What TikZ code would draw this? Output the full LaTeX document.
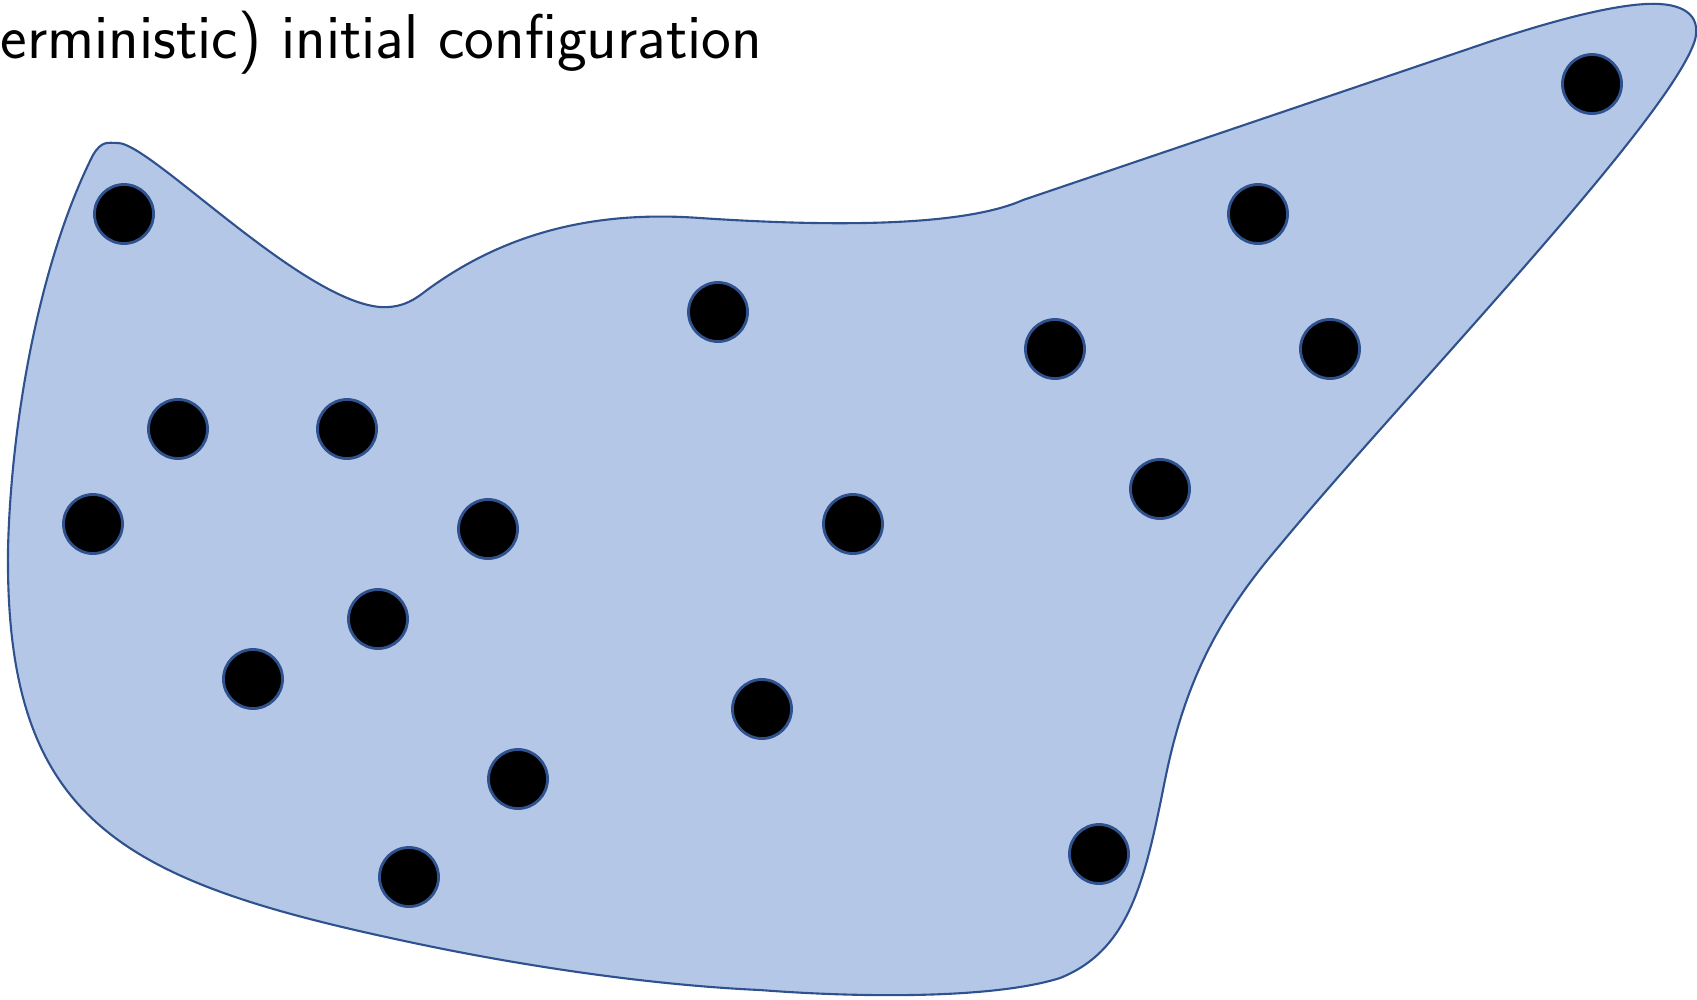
\documentclass[tikz,border=0pt]{standalone}
\usetikzlibrary{positioning}
\definecolor{blobfill}{HTML}{B4C7E7}
\definecolor{blobline}{HTML}{2F528F}

\begin{document}
\begin{tikzpicture}[
    x=0.01cm, y=-0.01cm,
    region/.style={draw=blobline, fill=blobfill, line width=0.6pt},
    dot/.style={circle, draw=blobline, fill=black, line width=0.8pt, minimum size=5.9mm, inner sep=0pt},
    caption/.style={font=\sffamily\fontsize{18}{21}\selectfont, inner sep=0pt}
]

\useasboundingbox (0,0) rectangle (1697,999);

% Caption (cut at the left border)
\node[caption, anchor=base east] (title) at (763,58) {erministic) initial configuration};

% Region outline
\path[region] (118,143)
    .. controls (150,143) and (300,300) .. (380,307)
    .. controls (398,308) and (410,303) .. (423,293)
    .. controls (500,235) and (590,210) .. (700,218)
    .. controls (820,226) and (960,228) .. (1023,200)
    -- (1474,47)
    .. controls (1570,14) and (1630,2) .. (1660,4)
    .. controls (1690,6) and (1700,20) .. (1695,40)
    .. controls (1670,120) and (1400,400) .. (1280,545)
    .. controls (1220,615) and (1185,680) .. (1165,780)
    .. controls (1145,880) and (1130,950) .. (1060,978)
    .. controls (990,1000) and (850,997) .. (760,990)
    .. controls (650,985) and (520,966) .. (400,940)
    .. controls (120,880) and (5,820) .. (8,550)
    .. controls (11,420) and (40,260) .. (93,155)
    .. controls (102,140) and (108,143) .. (118,143) -- cycle;

% Left part
\node[dot] (p1)  at (124,214) {};
\node[dot] (p2)  at (178,429) {};
\node[dot] (p3)  at (347,429) {};
\node[dot] (p4)  at (93,524) {};
\node[dot] (p5)  at (488,529) {};
\node[dot] (p6)  at (378,619) {};
\node[dot] (p7)  at (253,679) {};
\node[dot] (p8)  at (518,779) {};
\node[dot] (p9)  at (409,877) {};

% Middle part
\node[dot] (p10) at (718,312) {};
\node[dot] (p11) at (853,524) {};
\node[dot] (p12) at (762,709) {};

% Right part
\node[dot] (p13) at (1055,349) {};
\node[dot] (p14) at (1330,349) {};
\node[dot] (p15) at (1258,214) {};
\node[dot] (p16) at (1160,489) {};
\node[dot] (p17) at (1099,854) {};
\node[dot] (p18) at (1592,84) {};

\end{tikzpicture}
\end{document}
